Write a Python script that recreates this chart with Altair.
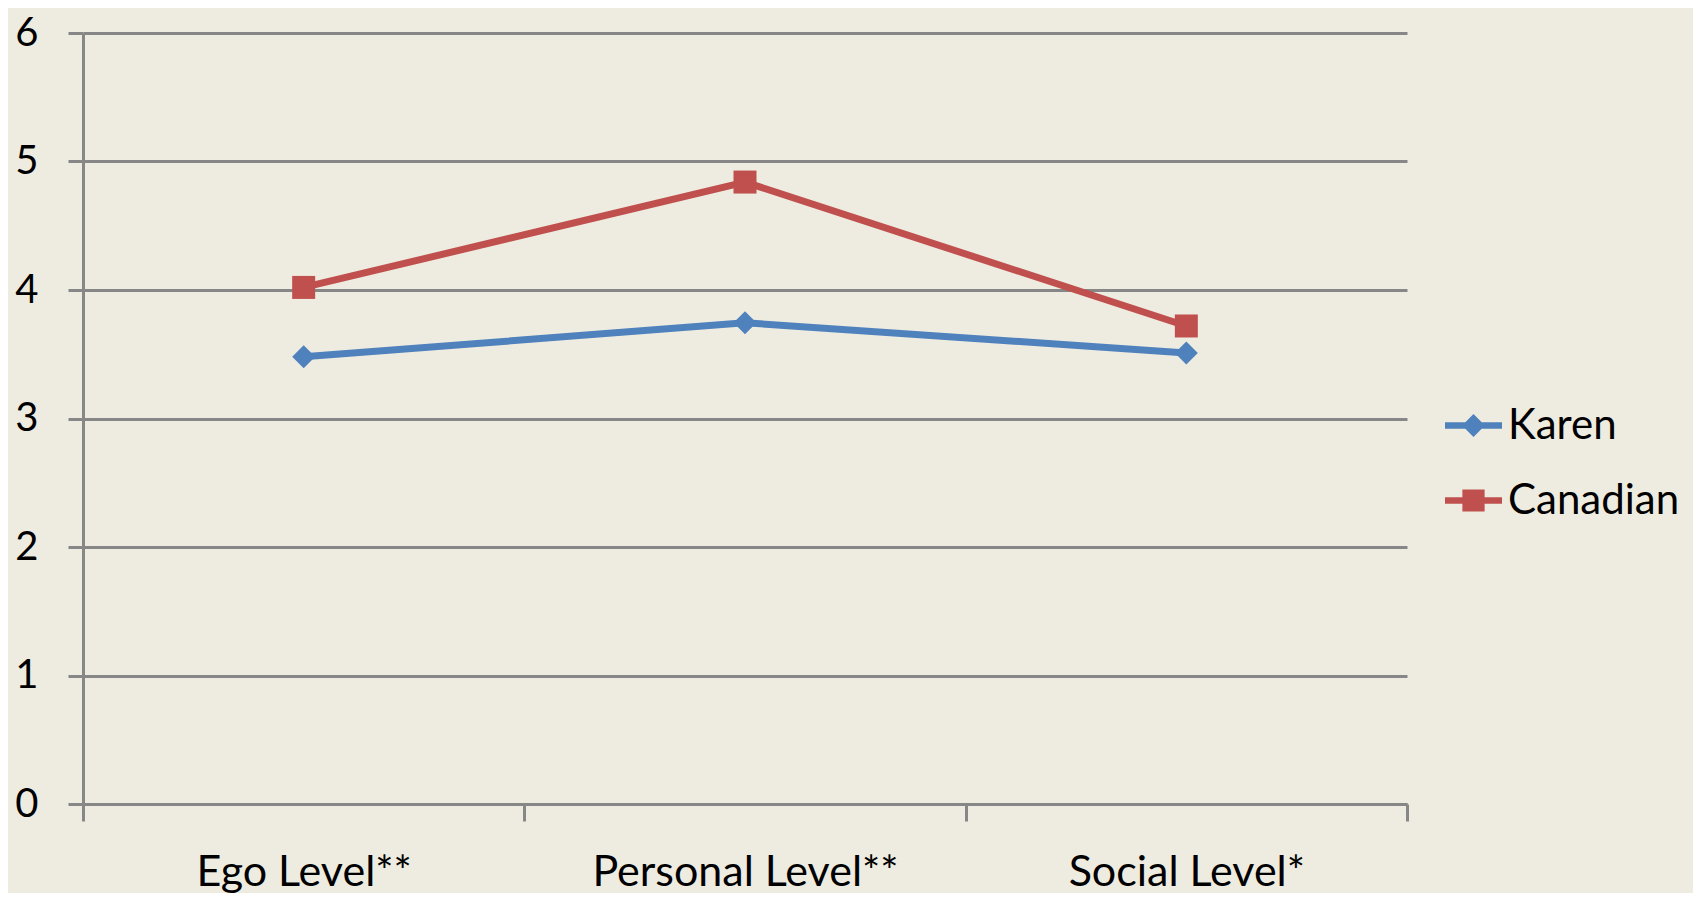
import altair as alt
import pandas as pd

categories = ["Ego Level**", "Personal Level**", "Social Level*"]
series_names = ["Karen", "Canadian"]
karen = [3.48, 3.745, 3.51]
canadian = [4.02, 4.84, 3.72]
y_ticks = [0, 1, 2, 3, 4, 5, 6]

colors = ["#4F81BD", "#C0504D"]
legend_shapes = [
    "M-1,-0.11H1V0.11H-1Z M0,-0.4L0.4,0L0,0.4L-0.4,0Z",
    "M-1,-0.11H1V0.11H-1Z M-0.39,-0.39H0.39V0.39H-0.39Z",
]

rows = []
for name, vals in zip(series_names, [karen, canadian]):
    for c, v in zip(categories, vals):
        rows.append({"category": c, "series": name, "value": v})
df = pd.DataFrame(rows)

FONT = "Lato"
GRID = "#878787"
W, H = 1324, 771

x_enc = alt.X(
    "category:N",
    sort=categories,
    scale=alt.Scale(type="band", paddingInner=0, paddingOuter=0),
    axis=alt.Axis(
        title=None, labelAngle=0, tickBand="extent", grid=False,
        domainColor=GRID, domainWidth=3, tickColor=GRID, tickWidth=3, tickSize=17,
        labelFont=FONT, labelFontSize=43, labelColor="black", labelLimit=600,
        labelBaseline="alphabetic", labelPadding=64,
    ),
)
y_enc = alt.Y(
    "value:Q",
    scale=alt.Scale(domain=[0, 6], nice=False),
    axis=alt.Axis(
        title=None, values=y_ticks, grid=True, gridColor=GRID, gridWidth=3,
        domainColor=GRID, domainWidth=3, tickColor=GRID, tickWidth=3, tickSize=15,
        labelFont=FONT, labelFontSize=40, labelColor="black", labelPadding=30,
    ),
)
color_scale = alt.Scale(domain=series_names, range=colors)

leg = alt.Legend(
    title=None, orient="none", legendX=1362, legendY=364, padding=0,
    symbolSize=3249, symbolStrokeWidth=0, symbolOpacity=1,
    labelFont=FONT, labelFontSize=42, labelColor="black", labelOffset=6,
    rowPadding=25, labelLimit=400,
)
color_enc = alt.Color("series:N", scale=color_scale, legend=leg)

lines = alt.Chart(df).mark_line(strokeWidth=7).encode(
    x=x_enc, y=y_enc, color=color_enc, detail="series:N",
)

pts_karen = alt.Chart(df).transform_filter(alt.datum.series == "Karen").mark_point(
    shape="diamond", filled=True, size=529, opacity=1, strokeWidth=0
).encode(x=x_enc, y=y_enc, color=color_enc)

pts_can = alt.Chart(df).transform_filter(alt.datum.series == "Canadian").mark_point(
    shape="square", filled=True, size=529, opacity=1, strokeWidth=0
).encode(x=x_enc, y=y_enc, color=color_enc)

legend_layer = alt.Chart(df).mark_point(filled=True).encode(
    x=x_enc, y=y_enc,
    color=color_enc,
    opacity=alt.value(0),
    shape=alt.Shape("series:N", scale=alt.Scale(domain=series_names, range=legend_shapes), legend=leg),
)

chart = alt.layer(lines, pts_karen, pts_can, legend_layer).properties(
    width=W, height=H,
    autosize=alt.AutoSizeParams(type="none"),
    padding={"left": 75, "top": 25, "right": 286, "bottom": 89},
).configure(background="#EEECE1").configure_view(stroke=None)

chart.save("out.html", embed_options={"renderer": "svg", "actions": False})
